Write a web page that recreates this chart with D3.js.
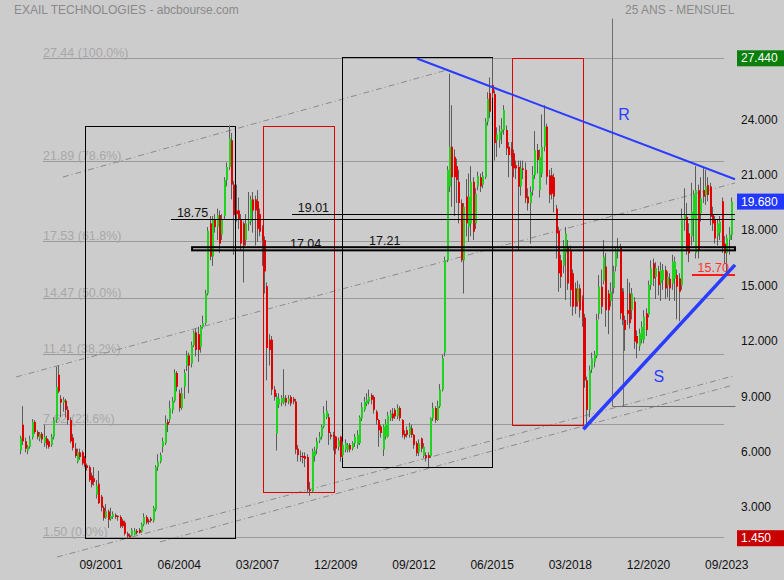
<!DOCTYPE html>
<html><head><meta charset="utf-8">
<script src="https://cdn.jsdelivr.net/npm/d3@7"></script>
<style>body{margin:0;background:#cccccc;} svg{display:block;font-family:"Liberation Sans",Arial,sans-serif;}</style>
</head><body><svg id="c" width="784" height="580"></svg>
<script>
// ---------------- DATA ----------------
const startYear = 1998, startMonth = 11; // first monthly candle: 11/1998
const open = [
6.2,7.6,6.7,6.2,6.4,6.9,7.75,7.2,6.85,7.1,
6.6,6.85,6.7,6.5,6.95,7.85,10.3,9.0,8.8,8.9,
8.4,7.85,6.9,6.3,5.6,6.1,6.1,5.8,5.4,5.3,
4.85,4.7,3.8,4.4,3.7,3.1,2.55,2.9,2.5,2.6,
2.7,2.65,2.6,2.4,2.3,1.7,1.6,1.6,1.65,1.85,
1.9,1.8,2.2,2.6,2.4,2.5,2.4,3.0,5.3,5.6,
6.4,6.6,7.75,7.9,8.4,8.9,10.4,9.3,8.5,9.65,
10.8,11.35,10.9,11.9,12.6,12.5,11.8,12.9,13.1,14.7,
18.5,16.7,18.7,18.3,18.95,17.9,18.9,20.85,21.55,23.0,
20.6,19.2,19.2,18.7,18.5,17.6,18.5,18.6,19.8,19.8,
19.7,19.0,18.2,17.6,15.1,12.2,12.2,9.5,7.1,8.7,
8.8,8.8,9.05,8.85,9.1,9.0,8.85,6.3,5.9,5.9,
5.9,5.85,4.1,4.0,5.9,6.3,6.75,6.95,7.5,8.0,
8.0,7.05,7.05,6.95,6.4,6.95,5.95,6.25,6.25,6.5,
6.3,6.6,6.5,6.6,7.95,8.4,8.75,8.85,9.2,9.1,
8.3,7.85,7.5,6.25,6.95,6.95,7.95,8.2,8.4,8.05,
8.5,7.85,7.1,7.3,7.05,7.4,7.05,6.6,6.1,6.85,
5.9,5.95,5.95,5.9,7.95,8.5,7.85,8.6,9.5,11.5,
16.5,20.5,22.65,22.1,21.6,20.75,19.6,16.5,19.95,18.3,
18.5,20.75,18.5,20.5,21.0,20.6,21.0,24.0,25.55,25.99,
25.5,23.0,23.0,23.4,23.55,23.56,22.65,22.56,22.3,21.65,
21.56,20.5,21.48,21.4,19.95,19.6,20.3,21.1,22.47,20.3,
21.2,22.65,23.74,21.1,21.1,21.0,19.3,18.1,16.5,16.2,
16.9,17.24,17.06,15.8,14.98,14.26,14.98,14.35,13.4,10.0,
8.4,10.6,11.0,11.3,13.6,15.07,15.4,16.16,14.7,14.3,
15.0,16.16,16.97,17.24,14.8,13.27,13.8,14.7,13.8,14.26,
12.4,11.85,12.2,12.2,13.63,13.55,15.16,16.34,15.6,15.9,
15.25,15.43,15.98,15.16,15.5,15.25,15.5,15.7,15.52,15.16,
18.7,18.85,17.96,17.8,18.77,16.9,20.3,19.04,20.31,20.04,
20.58,20.5,18.95,18.7,17.8,18.0,19.7,17.4,16.9,17.6,17.87];
const high = [
7.0,8.6,6.9,6.5,7.0,7.9,7.85,7.3,7.2,7.2,
7.6,7.0,6.8,7.1,8.0,10.74,10.8,9.2,9.1,9.0,
8.6,8.0,7.1,6.6,6.3,6.3,6.2,5.9,5.5,5.4,
5.0,5.3,4.6,5.1,3.8,3.2,3.3,3.0,3.1,2.9,
2.8,2.7,2.7,2.5,2.4,1.8,1.7,2.0,2.0,1.95,
2.0,2.3,2.8,2.7,2.5,2.6,3.2,5.4,6.0,6.1,
6.9,8.1,7.9,8.9,9.1,10.6,10.5,9.5,9.6,10.6,
11.6,11.5,12.1,12.7,12.8,12.9,13.0,13.5,14.9,18.3,
18.9,18.9,19.0,19.3,19.2,19.0,21.0,21.8,23.8,23.4,
20.8,20.6,19.9,19.0,18.6,19.0,20.2,20.0,20.2,20.0,
20.3,19.3,18.4,17.8,15.3,12.5,12.4,9.7,9.3,9.3,
9.2,10.6,9.2,9.2,9.2,9.1,9.0,6.5,6.2,6.1,
6.1,6.0,4.5,6.3,6.4,6.9,7.2,7.6,8.6,8.9,
8.2,7.2,7.2,7.0,6.9,7.0,6.7,6.8,6.6,6.6,
6.7,7.1,7.3,8.1,8.8,9.1,9.3,9.5,9.3,9.2,
8.4,7.9,7.6,7.6,7.9,8.3,8.4,8.5,8.5,8.7,
8.6,7.9,7.3,7.5,7.7,7.6,7.1,6.7,6.8,6.9,
6.6,6.1,6.1,8.0,8.8,8.6,8.9,9.8,11.4,16.7,
21.6,26.6,24.9,22.5,22.0,21.4,19.8,19.6,20.9,21.2,
21.6,21.0,20.4,21.3,21.2,21.3,24.2,25.6,26.4,27.44,
25.7,23.7,23.8,24.2,24.9,23.8,22.9,22.9,22.5,21.9,
21.9,21.9,21.9,21.8,20.4,20.5,21.6,23.5,22.8,22.5,
24.4,24.9,23.9,21.4,21.5,21.2,19.5,18.3,16.8,17.6,
18.3,17.6,17.3,16.0,15.3,15.4,15.2,14.6,13.6,10.2,
10.8,11.5,11.6,13.6,15.7,16.0,17.6,16.9,14.9,15.3,
16.2,17.2,17.7,17.4,15.0,13.5,15.5,15.3,15.0,14.5,
12.7,12.8,13.2,13.8,13.9,15.4,16.5,16.6,16.4,16.2,
16.4,16.3,16.2,15.9,15.8,16.8,16.7,16.0,15.8,19.3,
20.4,19.6,18.5,20.7,20.3,21.6,20.6,21.0,21.5,21.4,
21.0,20.7,19.4,18.9,18.7,18.9,19.9,17.8,17.9,18.3,19.9];
const low = [
6.0,6.5,6.1,6.0,6.3,6.8,7.1,6.8,6.7,6.6,
6.4,6.3,6.3,6.4,6.8,7.7,9.3,8.0,8.3,8.0,
7.6,6.6,6.2,5.8,5.5,5.7,5.4,5.3,5.1,4.5,
4.2,4.3,3.6,3.3,2.9,2.4,2.5,2.0,2.4,2.5,
2.5,2.4,2.0,2.0,1.6,1.45,1.45,1.55,1.6,1.65,
1.7,1.75,2.1,2.2,2.2,2.3,2.3,2.9,5.1,5.5,
6.1,6.5,7.2,7.7,8.2,8.8,9.4,8.3,8.4,9.0,
10.5,9.3,10.7,11.8,11.3,11.0,11.5,12.8,13.0,14.6,
16.5,16.2,18.0,17.6,16.9,17.6,18.7,20.5,21.4,19.8,
16.8,18.6,18.2,17.0,15.3,17.3,18.1,18.4,18.0,17.3,
17.5,17.8,16.2,14.7,10.0,10.8,9.2,8.9,6.2,8.5,
8.6,8.7,8.6,8.7,8.6,8.7,6.0,5.6,5.6,5.5,
5.3,3.9,3.75,3.9,5.6,6.0,6.6,6.8,7.4,7.9,
6.5,6.8,6.2,6.0,6.2,5.6,5.8,6.1,6.1,6.1,
6.2,6.4,6.3,6.5,7.8,8.3,8.6,8.7,8.7,8.2,
7.6,6.4,6.9,5.9,6.8,6.9,7.8,7.8,7.9,7.9,
7.8,6.9,6.8,6.9,6.9,6.9,6.3,5.9,5.9,6.1,
5.8,5.6,5.3,5.8,7.8,7.7,7.8,8.5,9.4,11.3,
16.4,20.2,19.4,18.9,19.6,18.5,16.4,14.7,17.8,17.5,
17.8,17.6,18.2,20.3,20.2,20.4,20.9,23.8,24.2,25.3,
21.9,22.1,22.6,22.8,23.3,22.2,21.0,21.6,21.0,20.9,
17.05,20.0,20.9,19.6,19.2,17.4,20.0,20.9,21.2,19.9,
21.0,22.4,20.6,19.6,19.8,19.1,16.6,14.8,15.0,15.8,
14.35,14.9,14.0,13.5,13.6,14.0,13.4,12.9,9.6,7.4,
8.0,10.4,10.7,11.2,13.3,13.6,15.2,12.9,12.5,14.0,
14.7,15.9,16.6,13.3,13.0,11.6,13.0,12.8,13.3,11.7,
11.2,11.6,12.0,12.0,12.4,13.4,14.9,15.1,14.4,14.6,
14.3,14.9,14.4,14.5,14.3,14.9,14.3,13.3,13.2,14.9,
18.1,16.8,16.4,17.3,17.5,16.6,16.6,18.6,19.6,19.5,
19.7,18.4,18.1,17.4,17.3,17.6,16.9,16.3,15.7,16.8,17.6];
const close = [
6.9,6.7,6.3,6.4,6.8,7.75,7.2,6.95,7.1,6.8,
6.95,6.5,6.4,6.95,7.85,9.65,9.4,8.8,8.95,8.4,
7.85,6.7,6.35,5.9,6.1,5.85,5.5,5.4,5.25,4.6,
4.35,4.5,4.3,3.35,3.1,2.55,2.9,2.45,2.65,2.75,
2.6,2.6,2.1,2.1,1.7,1.55,1.5,1.9,1.85,1.75,
1.75,2.2,2.6,2.3,2.35,2.4,3.1,5.3,5.6,5.95,
6.7,7.7,7.6,8.5,8.9,10.4,9.65,8.5,9.3,10.4,
11.35,10.8,11.9,12.6,11.65,11.65,12.9,13.1,14.7,18.1,
16.7,18.7,18.3,18.95,17.4,18.7,20.85,21.55,23.1,20.6,
18.95,19.0,18.7,17.4,17.3,18.5,18.6,19.8,19.2,19.2,
18.2,18.05,17.6,15.9,11.75,11.65,9.5,9.1,9.1,9.0,
9.05,9.05,8.8,9.0,8.75,8.85,6.25,5.95,5.85,5.8,
5.75,4.1,4.0,6.15,6.2,6.7,6.95,7.5,8.2,8.35,
7.15,6.95,6.95,6.3,6.75,5.85,6.5,6.6,6.5,6.25,
6.6,6.95,7.05,8.0,8.55,8.85,8.95,9.1,8.95,8.4,
7.85,7.3,7.15,7.5,7.65,8.1,8.2,7.95,8.05,8.5,
7.95,7.05,6.95,7.05,7.5,7.05,6.5,6.05,6.6,6.3,
6.4,5.8,5.8,7.95,8.5,7.85,8.6,9.5,11.2,16.5,
21.4,22.65,21.0,21.0,20.85,19.6,16.5,19.4,18.5,19.95,
20.75,18.05,20.1,21.05,20.5,21.05,24.0,25.25,24.55,25.55,
22.85,23.3,23.5,23.6,24.65,22.56,22.2,22.1,21.48,21.48,
20.49,21.48,21.4,19.86,19.59,20.2,21.12,22.47,21.93,22.1,
22.65,23.74,21.03,20.04,20.1,19.95,17.96,15.8,15.6,17.24,
17.96,15.25,14.89,13.99,13.99,14.98,13.8,13.45,10.0,8.4,
10.56,11.2,11.4,13.27,15.07,13.99,16.7,13.8,13.8,14.8,
15.9,16.97,17.15,13.63,13.27,12.73,13.6,13.1,14.7,12.1,
12.0,12.55,12.9,13.45,12.73,15.16,16.07,15.52,16.07,15.16,
15.98,15.98,14.98,15.6,14.98,16.43,16.43,15.07,14.8,18.77,
18.95,17.06,16.88,19.13,20.04,20.3,17.0,19.86,19.95,20.5,
20.04,18.86,18.5,17.69,18.5,18.6,17.2,16.88,17.7,17.9,19.68];

const xTickLabels = ["09/2001","06/2004","03/2007","12/2009","09/2012","06/2015","03/2018","12/2020","09/2023"];
const yTicks = [3, 6, 9, 12, 15, 18, 21, 24];
const fibLevels = [27.44, 21.89, 17.53, 14.47, 11.41, 7.62, 1.50];
const fibPcts = ["100.0%", "78.6%", "61.8%", "50.0%", "38.2%", "23.6%", "0.0%"];
const lastPrice = 19.68, maxPrice = 27.44, minPrice = 1.45;
// support/resistance levels [value, fromMonthIndex]
const blackLevels = [[18.75, 63.7], [19.01, 114.8]];
const levelLabels = [["18.75", 18.75, 66.2], ["19.01", 19.01, 117.2], ["17.04", 17.04, 113.9], ["17.21", 17.21, 147.3]];
const zoneLow = 17.04, zoneHigh = 17.21, zoneFrom = 72.6;
const redLevel = 15.70, redFrom = 283.5;
// boxes: [monthFrom, monthTo, valueLow, valueHigh, color]
const boxes = [[27.55, 91.0, 1.45, 23.77, "#000"], [102.7, 132.6, 3.95, 23.79, "#e00000"],
               [135.7, 198.9, 5.27, 27.5, "#000"], [207.7, 237.7, 7.58, 27.44, "#e00000"]];
// trend lines [m1, v1, m2, v2]
const lineR = [167.5, 27.43, 301.7, 20.89];
const lineS = [237.7, 7.35, 301.7, 16.25];
const channels = [[18.1, 21.01, 180.2, 26.81], [-1.7, 10.18, 301.7, 20.69],
                  [15.6, 0.43, 300.8, 10.23], [59.1, 1.25, 300.8, 9.74]];
const grayMarks = [[249.8, 29.6, 249.8, 8.63], [249.8, 8.63, 301.7, 8.63], [254.4, 15.0, 254.4, 8.63]];

// ---------------- CHART ----------------
const months = open.map((_, i) => {
  const m = (startMonth - 1 + i) % 12 + 1;
  const y = startYear + Math.floor((startMonth - 1 + i) / 12);
  return (m < 10 ? "0" : "") + m + "/" + y;
});
const svg = d3.select("#c");
svg.append("rect").attr("width", 784).attr("height", 580).attr("fill", "#cccccc");

const x = d3.scaleLinear().domain([0, months.length - 1]).range([20, 731]);
const y = d3.scaleLinear().domain([1.50, 27.44]).range([537.3, 58.3]);
const X = v => Math.round(x(v)) + 0.5, Y = v => Math.round(y(v)) + 0.5;

// Fibonacci lines
const fib = svg.append("g");
fibLevels.forEach((lv, i) => {
  fib.append("line").attr("x1", x(9.7)).attr("x2", x(297)).attr("y1", Y(lv)).attr("y2", Y(lv))
    .attr("stroke", "#9a9a9a").attr("stroke-width", 1);
  fib.append("text").attr("x", x(9.7)).attr("y", Y(lv) - 2).attr("font-size", 12.5)
    .attr("fill", "#a8a8a8").text(lv.toFixed(2) + " (" + fibPcts[i] + ")");
});

// channel dash-dot lines
channels.forEach(c => svg.append("line").attr("x1", x(c[0])).attr("y1", y(c[1])).attr("x2", x(c[2])).attr("y2", y(c[3]))
  .attr("stroke", "#8a8a8a").attr("stroke-width", 1).attr("stroke-dasharray", "6,3,1,3"));

// gray marks
grayMarks.forEach(g => svg.append("line").attr("x1", X(g[0])).attr("y1", Y(g[1])).attr("x2", X(g[2])).attr("y2", Y(g[3]))
  .attr("stroke", "#6e6e6e").attr("stroke-width", 1));

// boxes
boxes.forEach(b => svg.append("rect").attr("x", X(b[0])).attr("y", Y(b[3]))
  .attr("width", Math.round(x(b[1]) - x(b[0]))).attr("height", Math.round(y(b[2]) - y(b[3])))
  .attr("fill", "none").attr("stroke", b[4]).attr("stroke-width", 1));

// level labels (drawn under lines)
levelLabels.forEach(l => svg.append("text").attr("x", x(l[2])).attr("y", y(l[1]) - 2)
  .attr("font-size", 12.5).attr("fill", "#111").text(l[0]));

// candles
const cg = svg.append("g");
months.forEach((m, i) => {
  const cx = Math.round(x(i));
  cg.append("line").attr("x1", cx + 0.5).attr("x2", cx + 0.5).attr("y1", y(high[i])).attr("y2", y(low[i]))
    .attr("stroke", "#5c5c5c").attr("stroke-width", 1);
  const up = close[i] >= open[i];
  const top = y(Math.max(open[i], close[i])), bot = y(Math.min(open[i], close[i]));
  cg.append("rect").attr("x", cx).attr("y", top).attr("width", 2).attr("height", Math.max(1, bot - top))
    .attr("fill", up ? "#1ed41e" : "#e00000");
});

// black levels
blackLevels.forEach(l => svg.append("line").attr("x1", x(l[1])).attr("x2", x(301.7)).attr("y1", Y(l[0])).attr("y2", Y(l[0]))
  .attr("stroke", "#000").attr("stroke-width", 1));
svg.append("rect").attr("x", x(zoneFrom)).attr("y", y(zoneHigh)).attr("width", x(301.7) - x(zoneFrom))
  .attr("height", y(zoneLow) - y(zoneHigh)).attr("fill", "none").attr("stroke", "#000").attr("stroke-width", 2);
svg.append("line").attr("x1", x(redFrom)).attr("x2", x(301.7)).attr("y1", y(redLevel)).attr("y2", y(redLevel))
  .attr("stroke", "#ff1a1a").attr("stroke-width", 2);
svg.append("text").attr("x", x(285.9)).attr("y", y(redLevel) - 3).attr("font-size", 12.5).attr("fill", "#ff3030").text(redLevel.toFixed(2));

// trend lines R and S
svg.append("line").attr("x1", x(lineR[0])).attr("y1", y(lineR[1])).attr("x2", x(lineR[2])).attr("y2", y(lineR[3]))
  .attr("stroke", "#2a3cff").attr("stroke-width", 2);
svg.append("line").attr("x1", x(lineS[0])).attr("y1", y(lineS[1])).attr("x2", x(lineS[2])).attr("y2", y(lineS[3]))
  .attr("stroke", "#2a3cff").attr("stroke-width", 3.5);
svg.append("text").attr("x", x(254.9)).attr("y", y(24.37)).attr("font-size", 16).attr("fill", "#2a3cff")
  .attr("text-anchor", "middle").attr("dominant-baseline", "central").text("R");
svg.append("text").attr("x", x(269.6)).attr("y", y(10.23)).attr("font-size", 16).attr("fill", "#2a3cff")
  .attr("text-anchor", "middle").attr("dominant-baseline", "central").text("S");

// right axis
const yAxis = d3.axisRight(y).tickValues(yTicks).tickSize(0).tickPadding(0).tickFormat(d3.format(".3f"));
const ya = svg.append("g").attr("transform", "translate(741,-2.5)").call(yAxis);
ya.select(".domain").remove();
ya.selectAll("text").attr("font-size", 12).attr("fill", "#111").attr("font-family", "Liberation Sans, Arial, sans-serif");

// price boxes
[[maxPrice, "#0a800a", "#fff"], [lastPrice, "#2038ff", "#fff"], [minPrice, "#c80000", "#fff"]].forEach(p => {
  svg.append("rect").attr("x", 737).attr("y", y(p[0]) - 8).attr("width", 47).attr("height", 16).attr("fill", p[1]);
  svg.append("text").attr("x", 741).attr("y", y(p[0])).attr("dominant-baseline", "central")
    .attr("font-size", 12).attr("fill", p[2]).text(p[0].toFixed(3));
});

// bottom axis
const xAxis = d3.axisBottom(x).tickValues(xTickLabels.map(l => months.indexOf(l))).tickSize(0).tickPadding(0)
  .tickFormat(i => months[i]);
const xa = svg.append("g").attr("transform", "translate(0,560)").call(xAxis);
xa.select(".domain").remove();
xa.selectAll("text").attr("font-size", 12).attr("fill", "#111").attr("font-family", "Liberation Sans, Arial, sans-serif");

// titles
svg.append("text").attr("x", 14).attr("y", 14).attr("font-size", 12).attr("fill", "#8a8a8a").text("EXAIL TECHNOLOGIES - abcbourse.com");
svg.append("text").attr("x", 625).attr("y", 14).attr("font-size", 12).attr("fill", "#8a8a8a").text("25 ANS - MENSUEL");
</script></body></html>
